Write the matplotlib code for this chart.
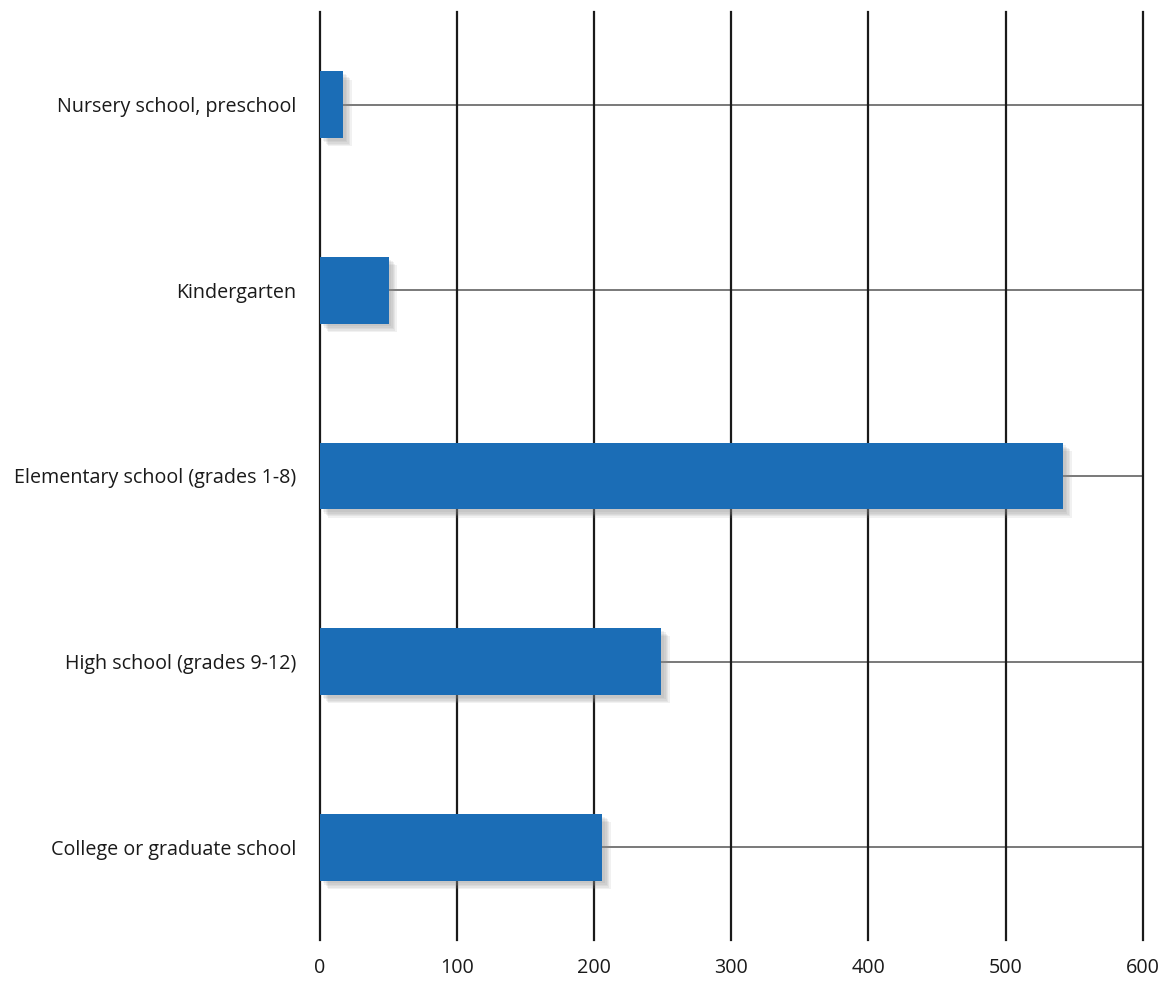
import matplotlib
matplotlib.use("Agg")
import matplotlib.pyplot as plt
import matplotlib.patheffects as pe

categories = [
    "Nursery school, preschool",
    "Kindergarten",
    "Elementary school (grades 1-8)",
    "High school (grades 9-12)",
    "College or graduate school",
]
values = [17, 50, 542, 249, 206]
x_ticks = [0, 100, 200, 300, 400, 500, 600]

plt.rcParams["font.family"] = ["Open Sans", "DejaVu Sans"]

fig = plt.figure(figsize=(11.72, 9.83), dpi=100)
ax = fig.add_axes([0.273, 0.0437, 0.702, 0.9443])

pos = list(range(len(categories)))

# horizontal guide lines through each category
for p in pos:
    ax.axhline(p, color="#555555", linewidth=1.1, zorder=1)

# vertical grid lines at each tick
for t in x_ticks:
    ax.axvline(t, color="#1a1a1a", linewidth=1.6, zorder=1, clip_on=False)

# soft drop shadow built from several faint offset layers
shadow = [
    pe.SimplePatchShadow(offset=(o, -o), shadow_rgbFace="#8c8c8c", alpha=0.12)
    for o in (2, 3, 4, 5, 6)
] + [pe.Normal()]
ax.barh(pos, values, height=0.36, color="#1b6db6", zorder=3, path_effects=shadow)

ax.set_xlim(0, 600)
ax.set_ylim(len(categories) - 0.5, -0.5)
ax.set_xticks(x_ticks)
ax.set_yticks(pos)
ax.set_yticklabels(categories)
ax.tick_params(axis="both", length=0, labelsize=14.2, colors="#1a1a1a")
ax.tick_params(axis="y", pad=17)
ax.tick_params(axis="x", pad=13)
for s in ax.spines.values():
    s.set_visible(False)

fig.savefig("out.png", dpi=100, facecolor="white")
